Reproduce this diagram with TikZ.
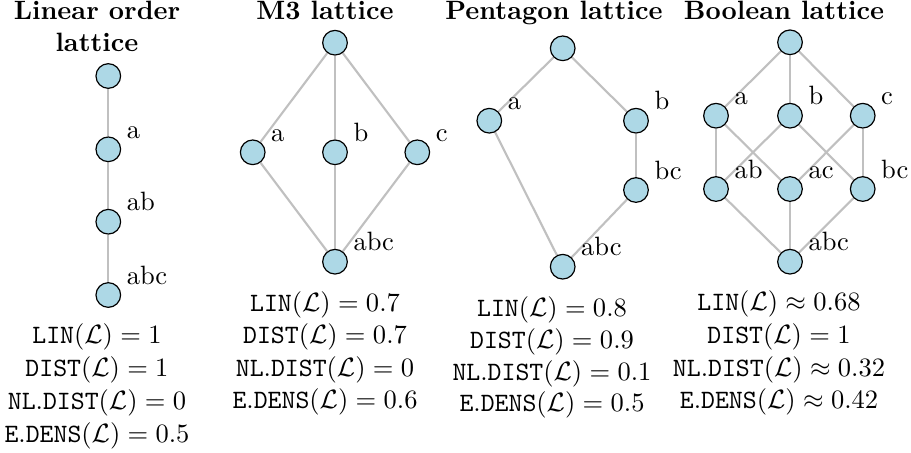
\documentclass[tikz,border=0pt]{standalone}
\usetikzlibrary{backgrounds}
\definecolor{nodeblue}{RGB}{173,216,230}
\definecolor{edgegray}{RGB}{192,192,192}
\begin{document}
\begin{tikzpicture}[x=0.3774pt,y=-0.3774pt,
  vert/.style={circle,draw=black,fill=nodeblue,minimum size=9.3pt,inner sep=0pt,line width=0.45pt},
  edge/.style={draw=edgegray,line width=0.8pt},
  every label/.append style={yshift=-3pt},
  ttl/.style={font=\bfseries,anchor=base,align=center},
  metric/.style={anchor=base,inner sep=0pt}]
\useasboundingbox (0,0) rectangle (911,452);

% ---------- Linear order lattice ----------
\node[ttl] (t1) at (97,51) {Linear order\\lattice};
\node[vert] (l0) at (108.3,76) {};
\node[vert,label=north east:a] (l1) at (108.3,149.3) {};
\node[vert,label=north east:ab] (l2) at (108.3,221.7) {};
\node[vert,label=north east:abc] (l3) at (108.3,295) {};
\begin{scope}[on background layer]
\draw[edge] (l0) -- (l1);
\draw[edge] (l1) -- (l2);
\draw[edge] (l2) -- (l3);
\end{scope}
\node[metric] (m11) at (97,343) {$\mathtt{LIN}(\mathcal{L}) = 1$};
\node[metric] (m12) at (97,376) {$\mathtt{DIST}(\mathcal{L}) = 1$};
\node[metric] (m13) at (97,409) {$\mathtt{NL.DIST}(\mathcal{L}) = 0$};
\node[metric] (m14) at (97,442) {$\mathtt{E.DENS}(\mathcal{L}) = 0.5$};

% ---------- M3 lattice ----------
\node[ttl] (t2) at (325,19.5) {M3 lattice};
\node[vert] (m0) at (335,42.7) {};
\node[vert,label=north east:a] (ma) at (252.7,152.3) {};
\node[vert,label=north east:b] (mb) at (335,152.3) {};
\node[vert,label=north east:c] (mc) at (417.3,152.3) {};
\node[vert,label=north east:abc] (mz) at (335,261.7) {};
\begin{scope}[on background layer]
\draw[edge] (m0) -- (ma);
\draw[edge] (m0) -- (mb);
\draw[edge] (m0) -- (mc);
\draw[edge] (ma) -- (mz);
\draw[edge] (mb) -- (mz);
\draw[edge] (mc) -- (mz);
\end{scope}
\node[metric] (m21) at (325,311) {$\mathtt{LIN}(\mathcal{L}) = 0.7$};
\node[metric] (m22) at (325,343) {$\mathtt{DIST}(\mathcal{L}) = 0.7$};
\node[metric] (m23) at (325,376) {$\mathtt{NL.DIST}(\mathcal{L}) = 0$};
\node[metric] (m24) at (325,408) {$\mathtt{E.DENS}(\mathcal{L}) = 0.6$};

% ---------- Pentagon lattice ----------
\node[ttl] (t3) at (554,19.5) {Pentagon lattice};
\node[vert] (p0) at (562.7,48.3) {};
\node[vert,label=north east:a] (pa) at (489.3,120.7) {};
\node[vert,label=north east:b] (pb) at (636,120.7) {};
\node[vert,label=north east:bc] (pbc) at (636,190) {};
\node[vert,label=north east:abc] (pz) at (562.7,266.7) {};
\begin{scope}[on background layer]
\draw[edge] (p0) -- (pa);
\draw[edge] (p0) -- (pb);
\draw[edge] (pb) -- (pbc);
\draw[edge] (pa) -- (pz);
\draw[edge] (pbc) -- (pz);
\end{scope}
\node[metric] (m31) at (552,316) {$\mathtt{LIN}(\mathcal{L}) = 0.8$};
\node[metric] (m32) at (552,348) {$\mathtt{DIST}(\mathcal{L}) = 0.9$};
\node[metric] (m33) at (552,380) {$\mathtt{NL.DIST}(\mathcal{L}) = 0.1$};
\node[metric] (m34) at (552,411) {$\mathtt{E.DENS}(\mathcal{L}) = 0.5$};

% ---------- Boolean lattice ----------
\node[ttl] (t4) at (784,19.5) {Boolean lattice};
\node[vert] (b0) at (790,42.3) {};
\node[vert,label=north east:a] (ba) at (716,115.7) {};
\node[vert,label=north east:b] (bb) at (790,115.7) {};
\node[vert,label=north east:c] (bc) at (862.7,115.7) {};
\node[vert,label=north east:ab] (bab) at (716,189) {};
\node[vert,label=north east:ac] (bac) at (790,189) {};
\node[vert,label=north east:bc] (bbc) at (862.7,189) {};
\node[vert,label=north east:abc] (bz) at (790,261.7) {};
\begin{scope}[on background layer]
\draw[edge] (b0) -- (ba);
\draw[edge] (b0) -- (bb);
\draw[edge] (b0) -- (bc);
\draw[edge] (ba) -- (bab);
\draw[edge] (ba) -- (bac);
\draw[edge] (bb) -- (bab);
\draw[edge] (bb) -- (bbc);
\draw[edge] (bc) -- (bac);
\draw[edge] (bc) -- (bbc);
\draw[edge] (bab) -- (bz);
\draw[edge] (bac) -- (bz);
\draw[edge] (bbc) -- (bz);
\end{scope}
\node[metric] (m41) at (779,310) {$\mathtt{LIN}(\mathcal{L}) \approx 0.68$};
\node[metric] (m42) at (779,343) {$\mathtt{DIST}(\mathcal{L}) = 1$};
\node[metric] (m43) at (779,376) {$\mathtt{NL.DIST}(\mathcal{L}) \approx 0.32$};
\node[metric] (m44) at (779,408) {$\mathtt{E.DENS}(\mathcal{L}) \approx 0.42$};
\end{tikzpicture}
\end{document}
